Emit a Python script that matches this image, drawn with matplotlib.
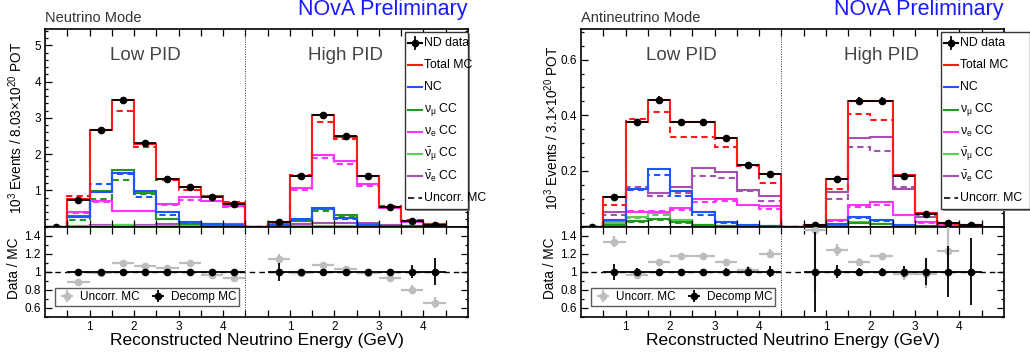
import numpy as np
import matplotlib
matplotlib.use("Agg")
import matplotlib.pyplot as plt
from matplotlib.ticker import FixedLocator, MultipleLocator, FuncFormatter
from matplotlib.patches import Rectangle
from matplotlib.lines import Line2D

plt.rcParams['font.family'] = ['Liberation Sans', 'DejaVu Sans']
plt.rcParams['mathtext.fontset'] = 'custom'
plt.rcParams['mathtext.rm'] = 'Liberation Sans'
plt.rcParams['mathtext.it'] = 'Liberation Sans:italic'
plt.rcParams['mathtext.bf'] = 'Liberation Sans:bold'

# ---------------- data ----------------
# energy bins (GeV): 0-0.5, 0.5-1, ..., 4-4.5
bin_edges = [0.0, 0.5, 1.0, 1.5, 2.0, 2.5, 3.0, 3.5, 4.0, 4.5]
bin_centers = [0.25, 0.75, 1.25, 1.75, 2.25, 2.75, 3.25, 3.75, 4.25]
ratio_centers = [0.75, 1.25, 1.75, 2.25, 2.75, 3.25, 3.75, 4.25]
tick_labels = ['1', '2', '3', '4']

# Neutrino mode, low PID
nu_low_data = [0, 0.74, 2.65, 3.50, 2.31, 1.32, 1.09, 0.82, 0.62]
nu_low_data_err = [0, 0.02, 0.03, 0.04, 0.03, 0.02, 0.02, 0.02, 0.02]
nu_low_tot = [0, 0.75, 2.66, 3.49, 2.29, 1.31, 1.10, 0.84, 0.64]
nu_low_tot_unc = [0, 0.83, 2.67, 3.18, 2.19, 1.28, 1.00, 0.85, 0.67]
nu_low_nc = [0, 0.27, 0.95, 1.47, 0.98, 0.40, 0.13, 0.07, 0.05]
nu_low_nc_unc = [0, 0.25, 1.17, 1.46, 0.82, 0.31, 0.11, 0.06, 0.04]
nu_low_numu = [0, 0.29, 0.97, 1.57, 0.93, 0.22, 0.08, 0.04, 0.03]
nu_low_numu_unc = [0, 0.18, 0.77, 1.29, 0.91, 0.22, 0.07, 0.04, 0.03]
nu_low_nue = [0, 0.39, 0.70, 0.42, 0.44, 0.63, 0.81, 0.70, 0.56]
nu_low_nue_unc = [0, 0.37, 0.68, 0.43, 0.44, 0.60, 0.74, 0.69, 0.53]
nu_low_anumu = [0, 0.01, 0.02, 0.03, 0.02, 0.01, 0.01, 0.00, 0.00]
nu_low_anue = [0, 0.02, 0.03, 0.04, 0.05, 0.06, 0.07, 0.07, 0.07]

# Neutrino mode, high PID
nu_high_data = [np.nan, 0.13, 1.40, 3.09, 2.49, 1.38, 0.53, 0.14, 0.05]
nu_high_data_err = [0, 0.01, 0.03, 0.04, 0.04, 0.03, 0.02, 0.01, 0.01]
nu_high_tot = [0, 0.13, 1.40, 3.08, 2.48, 1.39, 0.54, 0.15, 0.06]
nu_high_tot_unc = [0, 0.11, 1.41, 2.88, 2.42, 1.39, 0.56, 0.17, 0.07]
nu_high_nc = [0, 0.03, 0.21, 0.51, 0.24, 0.05, 0.02, 0.01, 0.00]
nu_high_nc_unc = [0, 0.03, 0.19, 0.48, 0.22, 0.05, 0.02, 0.01, 0.00]
nu_high_numu = [0, 0.02, 0.15, 0.48, 0.31, 0.06, 0.02, 0.00, 0.00]
nu_high_numu_unc = [0, 0.02, 0.14, 0.44, 0.30, 0.06, 0.02, 0.00, 0.00]
nu_high_nue = [0, 0.08, 1.06, 1.98, 1.80, 1.16, 0.50, 0.13, 0.05]
nu_high_nue_unc = [0, 0.07, 1.02, 1.89, 1.73, 1.13, 0.52, 0.15, 0.06]
nu_high_anumu = [0, 0.00, 0.01, 0.02, 0.01, 0.00, 0.00, 0.00, 0.00]
nu_high_anue = [0, 0.02, 0.06, 0.10, 0.10, 0.09, 0.03, 0.01, 0.00]

# Neutrino mode, ratios
nu_low_ratio_unc = [0.89, 0.99, 1.10, 1.06, 1.04, 1.10, 0.96, 0.93]
nu_low_ratio_unc_err = [0.02, 0.01, 0.01, 0.01, 0.01, 0.01, 0.01, 0.02]
nu_low_ratio_dec_err = [0.02, 0.01, 0.01, 0.01, 0.01, 0.01, 0.02, 0.02]
nu_high_ratio_unc = [1.14, 0.99, 1.07, 1.03, 0.99, 0.93, 0.80, 0.66]
nu_high_ratio_unc_err = [0.06, 0.02, 0.01, 0.01, 0.02, 0.02, 0.05, 0.06]
nu_high_ratio_dec_err = [0.10, 0.02, 0.01, 0.01, 0.02, 0.03, 0.07, 0.15]

# Antineutrino mode, low PID
anu_low_data = [0, 0.105, 0.375, 0.456, 0.376, 0.376, 0.317, 0.222, 0.187]
anu_low_data_err = [0, 0.006, 0.012, 0.014, 0.012, 0.012, 0.011, 0.009, 0.009]
anu_low_tot = [0, 0.105, 0.375, 0.456, 0.376, 0.376, 0.317, 0.222, 0.187]
anu_low_tot_unc = [0, 0.079, 0.387, 0.410, 0.322, 0.320, 0.286, 0.218, 0.157]
anu_low_nc = [0, 0.025, 0.135, 0.205, 0.127, 0.051, 0.015, 0.005, 0.003]
anu_low_nc_unc = [0, 0.022, 0.130, 0.184, 0.109, 0.043, 0.013, 0.004, 0.003]
anu_low_numu = [0, 0.006, 0.018, 0.028, 0.015, 0.004, 0.002, 0.001, 0.001]
anu_low_numu_unc = [0, 0.005, 0.016, 0.024, 0.013, 0.004, 0.002, 0.001, 0.001]
anu_low_nue = [0, 0.020, 0.053, 0.053, 0.067, 0.100, 0.100, 0.079, 0.073]
anu_low_nue_unc = [0, 0.018, 0.055, 0.055, 0.058, 0.087, 0.090, 0.079, 0.064]
anu_low_anumu = [0, 0.012, 0.035, 0.047, 0.025, 0.006, 0.002, 0.000, 0.000]
anu_low_anumu_unc = [0, 0.010, 0.030, 0.040, 0.022, 0.005, 0.002, 0.000, 0.000]
anu_low_anue = [0, 0.051, 0.136, 0.121, 0.141, 0.211, 0.195, 0.133, 0.109]
anu_low_anue_unc = [0, 0.040, 0.142, 0.109, 0.121, 0.181, 0.175, 0.128, 0.091]

# Antineutrino mode, high PID
anu_high_data = [np.nan, 0.005, 0.169, 0.450, 0.450, 0.183, 0.046, 0.012, 0.007]
anu_high_data_err = [0, 0.002, 0.008, 0.014, 0.014, 0.008, 0.004, 0.002, 0.002]
anu_high_tot = [0, 0.005, 0.169, 0.452, 0.452, 0.185, 0.047, 0.012, 0.006]
anu_high_tot_unc = [0, 0.004, 0.136, 0.406, 0.382, 0.183, 0.047, 0.010, 0.005]
anu_high_nc = [0, 0.001, 0.010, 0.035, 0.023, 0.004, 0.001, 0.000, 0.000]
anu_high_nc_unc = [0, 0.001, 0.009, 0.030, 0.020, 0.004, 0.001, 0.000, 0.000]
anu_high_numu = [0, 0.000, 0.004, 0.012, 0.008, 0.002, 0.000, 0.000, 0.000]
anu_high_nue = [0, 0.001, 0.023, 0.079, 0.089, 0.040, 0.015, 0.004, 0.002]
anu_high_nue_unc = [0, 0.001, 0.020, 0.069, 0.077, 0.040, 0.014, 0.004, 0.002]
anu_high_anumu = [0, 0.000, 0.006, 0.015, 0.010, 0.002, 0.000, 0.000, 0.000]
anu_high_anue = [0, 0.003, 0.124, 0.318, 0.322, 0.135, 0.035, 0.009, 0.004]
anu_high_anue_unc = [0, 0.003, 0.100, 0.286, 0.273, 0.142, 0.038, 0.008, 0.004]

# Antineutrino mode, ratios
anu_low_ratio_unc = [1.33, 0.96, 1.11, 1.17, 1.17, 1.11, 1.02, 1.20]
anu_low_ratio_unc_err = [0.06, 0.02, 0.02, 0.02, 0.02, 0.03, 0.04, 0.05]
anu_low_ratio_dec_err = [0.09, 0.04, 0.03, 0.03, 0.03, 0.04, 0.05, 0.06]
anu_high_ratio_unc = [1.46, 1.24, 1.11, 1.17, 0.97, 0.98, 1.23, np.nan]
anu_high_ratio_unc_err = [0.67, 0.07, 0.04, 0.04, 0.06, 0.16, 0.30, 0.0]
anu_high_ratio_dec_err = [0.44, 0.07, 0.04, 0.04, 0.06, 0.15, 0.28, 0.37]

# ---------------- style ----------------
C_TOT = '#ff1a1a'
C_NC = '#1f55ff'
C_NUMU = '#1f9a1f'
C_NUE = '#ff33ff'
C_ANUMU = '#5ccc5c'
C_ANUE = '#a452b0'
C_GRAY = '#bdbdbd'
DASH = (0, (3.0, 2.0))

W, H = 1030, 360
fig = plt.figure(figsize=(W / 100, H / 100), dpi=100)


def fx(px):
    return px / W


def fy(py):
    return 1 - py / H


SHIFT = 4.5
edges_low = np.array(bin_edges)
edges_high = edges_low + SHIFT


def draw_panel(x0, comps, data_low, data_low_err, data_high, data_high_err,
               ymax, ymaj, ymin_, ratios, mode_text, ylabel):
    x1 = x0 + 423
    ax = fig.add_axes([fx(x0), fy(226.5), fx(x1) - fx(x0), fy(29) - fy(226.5)])
    axr = fig.add_axes([fx(x0), fy(317), fx(x1) - fx(x0), fy(226.5) - fy(317)])

    for vals_low, vals_high, col, ls in comps:
        ax.stairs(vals_low, edges_low, color=col, lw=1.5, ls=ls, baseline=0)
        ax.stairs(vals_high, edges_high, color=col, lw=1.5, ls=ls, baseline=0)

    cl = np.array(bin_centers)
    ax.errorbar(cl, data_low, xerr=0.25, yerr=data_low_err, fmt='o', color='k',
                ms=4.5, lw=1.3, capsize=0, zorder=5)
    ax.errorbar(cl + SHIFT, data_high, xerr=0.25, yerr=data_high_err, fmt='o',
                color='k', ms=4.5, lw=1.3, capsize=0, zorder=5)

    for a in (ax, axr):
        a.set_xlim(0, 9.5)
        a.axvline(SHIFT, color='#333333', ls=(0, (1, 1.5)), lw=0.7)
        a.tick_params(direction='in', top=True, right=True, which='both',
                      labelsize=8.5, width=0.9, pad=3)
        a.tick_params(which='major', length=5)
        a.tick_params(which='minor', length=2.5)
        for s in a.spines.values():
            s.set_linewidth(1.2)
        xt = np.arange(0.5, 9.01, 0.5)
        a.xaxis.set_major_locator(FixedLocator(xt))

    ax.set_ylim(0, ymax)
    ax.yaxis.set_major_locator(MultipleLocator(ymaj))
    ax.yaxis.set_minor_locator(MultipleLocator(ymin_))
    ax.yaxis.set_major_formatter(FuncFormatter(lambda v, p: '' if abs(v) < 1e-9 else f'{round(v, 3):g}'))
    ax.tick_params(labelbottom=False)

    def xlab(v, p):
        e = v if v < SHIFT - 1e-9 else v - SHIFT
        if abs(e - round(e)) < 1e-9 and 1 <= round(e) <= 4:
            return tick_labels[int(round(e)) - 1]
        return ''
    axr.xaxis.set_major_formatter(FuncFormatter(xlab))
    axr.set_ylim(0.5, 1.5)
    axr.yaxis.set_major_locator(FixedLocator([0.6, 0.8, 1.0, 1.2, 1.4]))
    axr.yaxis.set_minor_locator(MultipleLocator(0.1))
    axr.yaxis.set_major_formatter(FuncFormatter(lambda v, p: f'{round(v, 2):g}'))
    axr.axhline(1.0, color='k', ls=(0, (4, 3)), lw=1.0, zorder=1)

    rl_unc, rl_unc_err, rl_dec_err, rh_unc, rh_unc_err, rh_dec_err = ratios
    rc = np.array(ratio_centers)
    ones = np.ones(len(rc))
    hu = axr.errorbar(rc, rl_unc, xerr=0.25, yerr=rl_unc_err, fmt='o', color=C_GRAY,
                      ms=4.5, lw=1.6, capsize=0, zorder=3)
    axr.errorbar(rc + SHIFT, rh_unc, xerr=0.25, yerr=rh_unc_err, fmt='o', color=C_GRAY,
                 ms=4.5, lw=1.6, capsize=0, zorder=3)
    hd = axr.errorbar(rc, ones, xerr=0.25, yerr=rl_dec_err, fmt='o', color='k',
                      ms=4.5, lw=1.3, capsize=0, zorder=4)
    axr.errorbar(rc + SHIFT, ones, xerr=0.25, yerr=rh_dec_err, fmt='o', color='k',
                 ms=4.5, lw=1.3, capsize=0, zorder=4)

    # ratio legend
    lg = axr.legend([hu, hd], ['Uncorr. MC', 'Decomp MC'], ncol=2, loc='lower left',
                    bbox_to_anchor=(10 / 423, 11 / 90.5), fontsize=8.5, frameon=True,
                    fancybox=False, edgecolor='#333333', handlelength=1.6,
                    handletextpad=0.3, columnspacing=0.7, borderpad=0.25,
                    borderaxespad=0)
    lg.get_frame().set_linewidth(1.0)

    # texts
    ax.text(2.25, (226.5 - 55) / 197.5, 'Low PID',
            transform=ax.get_xaxis_transform(), ha='center', va='center',
            fontsize=13.5, color='#444444')
    ax.text(6.75, (226.5 - 55) / 197.5, 'High PID', transform=ax.get_xaxis_transform(),
            ha='center', va='center', fontsize=13.5, color='#444444')
    fig.text(fx(x0), fy(18), mode_text, ha='left', va='center', fontsize=10.5, color='#333333')
    fig.text(fx(x1), fy(10), 'NOvA Preliminary', ha='right', va='center', fontsize=15.5,
             color='#1a1aff')
    fig.text(fx(x0 - 29), fy(128), ylabel, rotation=90, ha='center', va='center', fontsize=9.8)
    fig.text(fx(x0 - 31), fy(268), 'Data / MC', rotation=90, ha='center', va='center', fontsize=9.8)
    fig.text(fx((x0 + x1) / 2), fy(340), 'Reconstructed Neutrino Energy (GeV)', ha='center',
             va='center', fontsize=12.5)

    # top legend (manual)
    lx0 = x0 + 360
    lx1 = lx0 + (63 if x0 < 500 else 89)
    shadow = Rectangle((fx(lx0 + 2), fy(211)), fx(lx1) - fx(lx0), fy(32) - fy(209),
                       transform=fig.transFigure, facecolor='#888888', edgecolor='none', zorder=9)
    box = Rectangle((fx(lx0), fy(209)), fx(lx1) - fx(lx0), fy(32) - fy(209),
                    transform=fig.transFigure, facecolor='white', edgecolor='#333333',
                    lw=1.0, zorder=10)
    fig.add_artist(shadow)
    fig.add_artist(box)
    entries = [('ND data', 'k', '-', True), ('Total MC', C_TOT, '-', False),
               ('NC', C_NC, '-', False),
               (r'$\mathregular{\nu_{\mu}}$ CC', C_NUMU, '-', False),
               (r'$\mathregular{\nu_{e}}$ CC', C_NUE, '-', False),
               (r'$\mathregular{\bar{\nu}_{\mu}}$ CC', C_ANUMU, '-', False),
               (r'$\mathregular{\bar{\nu}_{e}}$ CC', C_ANUE, '-', False),
               ('Uncorr. MC', '#333333', DASH, False)]
    for i, (lab, col, ls, isdata) in enumerate(entries):
        yc = 43 + 22.2 * i
        hx0, hx1 = lx0 + 2.5, lx0 + 17
        fig.add_artist(Line2D([fx(hx0), fx(hx1)], [fy(yc), fy(yc)], color=col, lw=1.5, ls=ls,
                              transform=fig.transFigure, zorder=11))
        if isdata:
            xm = (hx0 + hx1) / 2
            fig.add_artist(Line2D([fx(xm), fx(xm)], [fy(yc - 6), fy(yc + 6)], color='k', lw=1.3,
                                  transform=fig.transFigure, zorder=11))
            fig.add_artist(Line2D([fx(xm)], [fy(yc)], color='k', marker='o', ms=4.5,
                                  transform=fig.transFigure, zorder=12))
        fig.text(fx(hx1 + 2), fy(yc), lab, ha='left', va='center', fontsize=8.8, zorder=12)
    return ax, axr


def comps_for(tot, tot_unc, nc, nc_unc, numu, numu_unc, nue, nue_unc, anumu, anumu_unc,
              anue, anue_unc):
    out = []
    pairs = [(anue, anue_unc, C_ANUE), (anumu, anumu_unc, C_ANUMU), (nue, nue_unc, C_NUE),
             (numu, numu_unc, C_NUMU), (nc, nc_unc, C_NC), (tot, tot_unc, C_TOT)]
    for (vl, vh), (ul, uh), c in pairs:
        out.append((vl, vh, c, '-'))
        out.append((ul, uh, c, DASH))
    return out


nu_comps = comps_for((nu_low_tot, nu_high_tot), (nu_low_tot_unc, nu_high_tot_unc),
                     (nu_low_nc, nu_high_nc), (nu_low_nc_unc, nu_high_nc_unc),
                     (nu_low_numu, nu_high_numu), (nu_low_numu_unc, nu_high_numu_unc),
                     (nu_low_nue, nu_high_nue), (nu_low_nue_unc, nu_high_nue_unc),
                     (nu_low_anumu, nu_high_anumu), (nu_low_anumu, nu_high_anumu),
                     (nu_low_anue, nu_high_anue), (nu_low_anue, nu_high_anue))
anu_comps = comps_for((anu_low_tot, anu_high_tot), (anu_low_tot_unc, anu_high_tot_unc),
                      (anu_low_nc, anu_high_nc), (anu_low_nc_unc, anu_high_nc_unc),
                      (anu_low_numu, anu_high_numu), (anu_low_numu_unc, anu_high_numu),
                      (anu_low_nue, anu_high_nue), (anu_low_nue_unc, anu_high_nue_unc),
                      (anu_low_anumu, anu_high_anumu), (anu_low_anumu_unc, anu_high_anumu),
                      (anu_low_anue, anu_high_anue), (anu_low_anue_unc, anu_high_anue_unc))

draw_panel(45, nu_comps, nu_low_data, nu_low_data_err, nu_high_data, nu_high_data_err,
           5.45, 1, 0.2,
           (nu_low_ratio_unc, nu_low_ratio_unc_err, nu_low_ratio_dec_err,
            nu_high_ratio_unc, nu_high_ratio_unc_err, nu_high_ratio_dec_err),
           'Neutrino Mode', r'10$^{3}$ Events / 8.03$\times$10$^{20}$ POT')
draw_panel(581, anu_comps, anu_low_data, anu_low_data_err, anu_high_data, anu_high_data_err,
           0.71, 0.2, 0.05,
           (anu_low_ratio_unc, anu_low_ratio_unc_err, anu_low_ratio_dec_err,
            anu_high_ratio_unc, anu_high_ratio_unc_err, anu_high_ratio_dec_err),
           'Antineutrino Mode', r'10$^{3}$ Events / 3.1$\times$10$^{20}$ POT')

fig.savefig('out.png', dpi=100)
